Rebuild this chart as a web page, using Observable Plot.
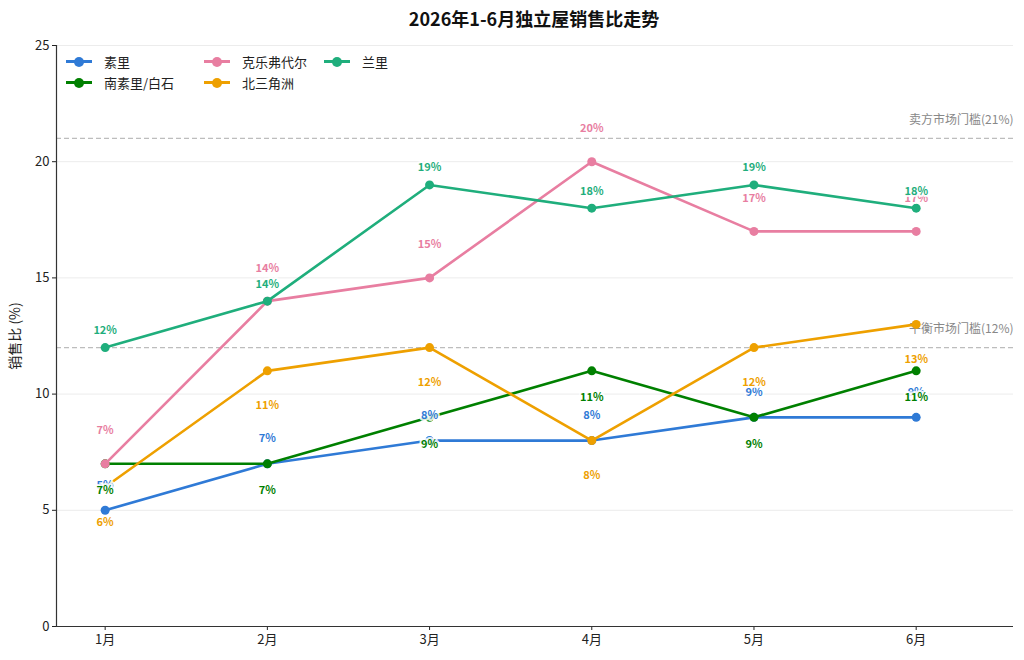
<!DOCTYPE html>
<html><head><meta charset="utf-8">
<script src="https://cdn.jsdelivr.net/npm/d3@7"></script>
<script src="https://cdn.jsdelivr.net/npm/@observablehq/plot@0.6"></script>
<style>
body{margin:0;background:#fff;font-family:"Noto Sans CJK SC","Noto Sans",sans-serif;}
#wrap{position:relative;width:1024px;height:660px;}
#title{height:34px;line-height:36px;font-size:18px;font-weight:bold;text-align:center;padding-left:44px;color:#111;}
#legend{position:absolute;left:66px;top:52px;display:grid;grid-template-columns:138px 120px 120px;row-gap:3px;font-size:13px;color:#222;}
.li{display:flex;align-items:center;height:18px;}
.sw{position:relative;width:26px;height:18px;margin-right:12px;}
.sw .ln{position:absolute;left:0;top:8px;width:26px;height:3px;}
.sw .dt{position:absolute;left:8px;top:4.5px;width:10px;height:10px;border-radius:50%;}
</style></head>
<body>
<div id="wrap">
<div id="title">2026年1-6月独立屋销售比走势</div>
<div id="chart"></div>
<div id="legend"></div>
</div>
<script>
const months = ["1月","2月","3月","4月","5月","6月"];
const seriesNames = ["素里","南素里/白石","克乐弗代尔","北三角洲","兰里"];
const colors = ["#2f7ad6","#008000","#e87ea1","#eea000","#1fae7c"];
const surrey = [5,7,8,8,9,9];
const southSurrey = [7,7,9,11,9,11];
const cloverdale = [7,14,15,20,17,17];
const northDelta = [6,11,12,8,12,13];
const langley = [12,14,19,18,19,18];
const labelDy = [-25,27,-33,35,-17];
const thresholds = [21,12];
const thresholdLabels = ["卖方市场门槛(21%)","平衡市场门槛(12%)"];
const yTicks = [0,5,10,15,20,25];

const allValues = [surrey, southSurrey, cloverdale, northDelta, langley];
const data = [];
allValues.forEach((vals, si) => vals.forEach((v, i) => data.push({series: seriesNames[si], si, i, v})));

const marks = [
  Plot.gridY(yTicks, {stroke:"#ececec", strokeOpacity:1, strokeWidth:1}),
  Plot.ruleY(thresholds, {stroke:"#bdbdbd", strokeWidth:1.2, strokeDasharray:"5,3"}),
  Plot.text(thresholds, {x: 5.6, y: d=>d, text:(d,i)=>thresholdLabels[i], textAnchor:"end", dy:-18, fill:"#888", fontSize:12}),
  Plot.ruleY([0], {stroke:"#333", strokeWidth:1.2}),
  Plot.ruleX([-0.3], {stroke:"#333", strokeWidth:1.2}),
];
seriesNames.forEach((name, si) => {
  const d = data.filter(r => r.si === si);
  marks.push(Plot.line(d, {x:"i", y:"v", stroke: colors[si], strokeWidth:2.6}));
  marks.push(Plot.dot(d, {x:"i", y:"v", fill: colors[si], r:4.5}));
});
seriesNames.forEach((name, si) => {
  const d = data.filter(r => r.si === si);
  marks.push(Plot.text(d, {x:"i", y:"v", text: r => r.v + "%", dy: labelDy[si], fill: colors[si], fontWeight:"bold", fontSize:11, stroke:"white", strokeWidth:4, strokeOpacity:0.85}));
});

const chart = Plot.plot({
  width:1024, height:626,
  marginTop:11, marginBottom:34, marginLeft:56, marginRight:11,
  style:{fontFamily:'"Noto Sans CJK SC","Noto Sans",sans-serif', fontSize:"13px", color:"#222", background:"#fff"},
  x:{domain:[-0.3,5.6], ticks:[0,1,2,3,4,5], tickFormat:i=>months[i], label:null, tickSize:4},
  y:{domain:[0,25], ticks:yTicks, label:"销售比 (%)", labelAnchor:"center", labelArrow:"none", tickSize:4},
  marks:[
    Plot.axisX({ticks:[0,1,2,3,4,5], tickFormat:i=>months[i], label:null, tickSize:4, fontSize:13, tickPadding:4}),
    Plot.axisY({ticks:yTicks, label:"销售比 (%)", labelAnchor:"center", labelArrow:"none", labelOffset:46, tickSize:4, fontSize:13, tickPadding:3}),
    ...marks
  ]
});
document.getElementById("chart").appendChild(chart);
chart.querySelectorAll("g[aria-label='y-axis label'] text").forEach(t => t.setAttribute("font-size", "14"));

const legend = document.getElementById("legend");
const order = [0,2,4,1,3];
order.forEach(si => {
  const el = document.createElement("div");
  el.className = "li";
  el.innerHTML = `<div class="sw"><div class="ln" style="background:${colors[si]}"></div><div class="dt" style="background:${colors[si]}"></div></div><span>${seriesNames[si]}</span>`;
  legend.appendChild(el);
});
</script>
</body></html>
